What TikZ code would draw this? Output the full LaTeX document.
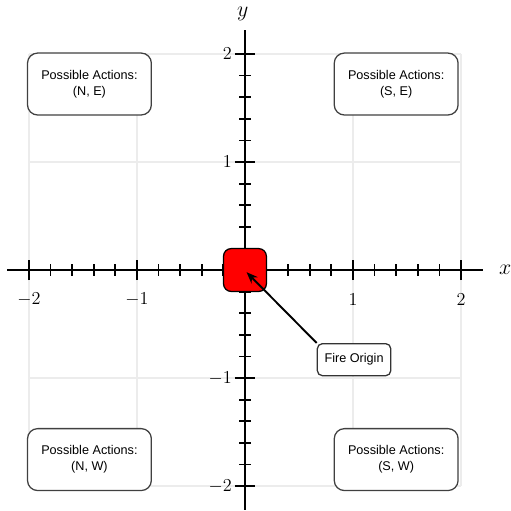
\documentclass[tikz,border=0pt]{standalone}
\usepackage{fontspec}
\setmainfont{Liberation Sans}
\usetikzlibrary{arrows.meta}
\begin{document}
\begin{tikzpicture}[x=3cm, y=3cm, font=\fontsize{10}{12.5}\selectfont,
  gridline/.style={gray!15, line width=1.2pt},
  axisline/.style={line width=1.5pt},
  ticklabel/.style={font=\fontsize{14.5}{16}\selectfont, inner sep=0pt},
  axislabel/.style={font=\fontsize{17}{19}\selectfont, inner sep=0pt},
  actionbox/.style={draw=black!75, line width=1pt, fill=white, rounded corners=8pt,
                    align=center, minimum width=3.44cm, minimum height=1.72cm},
  labelbox/.style={draw=black!80, line width=1pt, fill=white, rounded corners=4pt,
                   minimum width=2.04cm, minimum height=0.89cm},
  arr/.style={-{Stealth[length=9pt, width=7pt]}, line width=1.5pt}
]
  \useasboundingbox (-2.268,-2.231) rectangle (2.463,2.5);

  % --- grille ---
  \foreach \i in {-2,...,2} {
    \draw[gridline] (\i,-2) -- (\i,2);
    \draw[gridline] (-2,\i) -- (2,\i);
  }

  % --- axes ---
  \draw[axisline] (-2.2,0) -- (2.2,0);
  \draw[axisline] (0,-2.22) -- (0,2.22);
  \node[axislabel] (xlab) at (2.41,0) {$x$};
  \node[axislabel] (ylab) at (-0.02,2.37) {$y$};

  % --- graduations ---
  \foreach \k in {-10,...,10} {
    \draw[line width=1.4pt] (\k/5,-0.055) -- (\k/5,0.055);
    \draw[line width=1.4pt] (-0.055,\k/5) -- (0.055,\k/5);
  }
  \foreach \i in {-2,-1,1,2} {
    \draw[line width=1.4pt] (\i,-0.093) -- (\i,0.093);
    \draw[line width=1.4pt] (-0.093,\i) -- (0.093,\i);
    \node[ticklabel] at (\i,-0.27) {$\i$};
    \node[ticklabel, anchor=east] at (-0.12,\i) {$\i$};
  }

  % --- actions possibles ---
  \node[actionbox] (ne) at (-1.44, 1.722) {Possible Actions:\\(N, E)};
  \node[actionbox] (se) at ( 1.40, 1.722) {Possible Actions:\\(S, E)};
  \node[actionbox] (nw) at (-1.44,-1.755) {Possible Actions:\\(N, W)};
  \node[actionbox] (sw) at ( 1.40,-1.755) {Possible Actions:\\(S, W)};

  % --- origine du feu ---
  \node[draw, line width=1pt, fill=red, rounded corners=6pt, inner sep=0pt,
        minimum size=1.19cm] (origin) at (0,0) {};
  \coordinate (o) at (0.015,-0.02);
  \node[labelbox] (fire) at (1.01,-0.83) {Fire Origin};
  \draw[arr] (fire.north west) -- (o);
\end{tikzpicture}
\end{document}
